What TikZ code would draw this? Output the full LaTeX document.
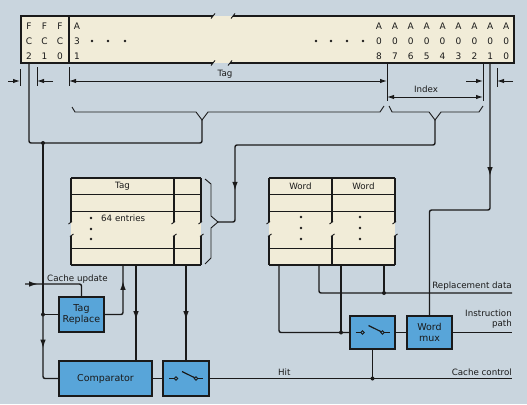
\documentclass[tikz,border=0pt]{standalone}
\usepackage{fontspec}
\setmainfont{DejaVu Sans}
\usetikzlibrary{arrows.meta,decorations.markings,calc}
\definecolor{bgc}{HTML}{C9D5DE}
\definecolor{cream}{HTML}{F1ECD8}
\definecolor{boxblue}{HTML}{58A5D9}
\definecolor{ink}{HTML}{1A1A1A}
\tikzset{
  wire/.style={draw=ink, line width=1.4pt, rounded corners=2pt},
  fine/.style={draw=ink, line width=0.9pt},
  frame/.style={draw=ink, line width=1.3pt},
  arrowat/.style={postaction={decorate}, decoration={markings, mark=at position #1 with {\arrow{Latex[length=9pt,width=5.6pt]}}}},
  bluebox/.style={draw=ink, line width=1.3pt, fill=boxblue, inner sep=0pt, text=ink,
    font=\fontsize{9.5}{11}\selectfont, align=center},
  memfill/.style={fill=cream, inner sep=0pt},
  lbl/.style={font=\fontsize{8.7}{10}\selectfont, inner sep=0pt, text=ink},
  bitcol/.style={font=\fontsize{9}{15}\selectfont, align=center, inner sep=0pt, text=ink},
  jdot/.style={circle, fill=ink, inner sep=0pt, minimum size=4pt},
  smalldot/.style={circle, fill=ink, inner sep=0pt, minimum size=2.8pt},
  pics/switchsym/.style={code={
    \draw[fine] (-17,0) -- (-11.7,0);
    \draw[fine] (-10,0) circle (1.7pt);
    \draw[fine, line width=1.2pt] (-4,-7) -- (8.6,-0.8);
    \draw[fine] (10,0) circle (1.7pt);
    \draw[fine] (11.7,0) -- (17,0);
  }},
}
\begin{document}
\begin{tikzpicture}[x=1pt,y=-1pt,>={Latex[length=7pt,width=4.4pt]}]
\fill[bgc] (0,0) rectangle (527,404);
\useasboundingbox (0,0) rectangle (527,404);

% ---------- address register ----------
\node[memfill, minimum width=493pt, minimum height=47pt] (reg) at (267.5,39.5) {};
\draw[frame] (213,16) -- (21,16) -- (21,63) -- (213,63);
\draw[frame] (233,16) -- (514,16) -- (514,63) -- (230,63);
\draw[fine] (211,18.5) -- (215,13.5);
\draw[fine] (231,18.5) -- (235,13.5);
\draw[fine] (211,65.5) -- (215,60.5);
\draw[fine] (228,65.5) -- (232,60.5);
\draw[frame] (69,16) -- (69,63);

\node[bitcol] (fc2) at (29,41) {F\\C\\2};
\node[bitcol] (fc1) at (44.5,41) {F\\C\\1};
\node[bitcol] (fc0) at (60,41) {F\\C\\0};
\node[bitcol] (a31) at (77,41) {A\\3\\1};
\foreach \i in {8,...,0}
  \node[bitcol] (a\i) at ({379+15.9*(8-\i)},41) {A\\0\\\i};
\foreach \x in {92,108,125,316,331,347,363}
  \fill[ink] (\x,41) circle (1.4pt);

% ---------- dimension marks ----------
\draw[fine] (20,69) -- (20,86);
\draw[fine,->] (8,81) -- (20,81);
\draw[fine] (37,67) -- (37,86);
\draw[fine,->] (53,81) -- (37,81);
\draw[fine] (69,67) -- (69,86);
\draw[fine] (387,63) -- (387,101);
\draw[fine,<->] (69,81) -- (387,81);
\node[lbl] (taglbl) at (225,74.5) {Tag};
\draw[fine] (483,63) -- (483,101);
\draw[fine,<->] (387,97) -- (483,97);
\node[lbl] (idxlbl) at (426,89) {Index};
\draw[fine,->] (466,81) -- (483,81);
\draw[fine] (497,68) -- (497,87);
\draw[fine,->] (513,81) -- (497,81);

% ---------- braces ----------
\draw[fine] (72,107) -- (75,112) -- (196,112) -- (202,120) -- (208,112) -- (380,112) -- (384,106);
\draw[fine] (389,106) -- (392,112) -- (429,112) -- (435,120) -- (441,112) -- (479,112) -- (483,106);
\coordinate (tagtip) at (202,120);
\coordinate (idxtip) at (435,120);

% ---------- tag memory ----------
\node[memfill, minimum width=130pt, minimum height=87pt] (tm) at (136,221.5) {};
\draw[frame] (71,178) -- (201,178);
\draw[frame] (71,265) -- (201,265);
\foreach \x in {71,174,201} {
  \draw[frame] (\x,178) -- (\x,222);
  \draw[frame] (\x,236) -- (\x,265);
  \draw[fine] (\x-2.5,224) -- (\x+1,221.5);
  \draw[fine] (\x-1,236.5) -- (\x+2.5,234);
}
\foreach \y in {194,211,248} \draw[fine] (71,\y) -- (201,\y);
\node[lbl] (tmhead) at (122.5,186.5) {Tag};
\node[smalldot] (te1) at (91,218) {};
\node[lbl, anchor=base west] (tment) at (101,221.5) {64 entries};
\node[smalldot] (te2) at (91,229) {};
\node[smalldot] (te3) at (91,239) {};
\draw[fine] (205,179) -- (211,184) -- (211,216) -- (218,222) -- (211,228) -- (211,258) -- (205,264);
\coordinate (tmbr) at (218,222);

% ---------- word memory ----------
\node[memfill, minimum width=126pt, minimum height=87pt] (wm) at (332,221.5) {};
\draw[frame] (269,178) -- (395,178);
\draw[frame] (269,265) -- (395,265);
\foreach \x in {269,332,395} {
  \draw[frame] (\x,178) -- (\x,222);
  \draw[frame] (\x,236) -- (\x,265);
  \draw[fine] (\x-2.5,224) -- (\x+1,221.5);
  \draw[fine] (\x-1,236.5) -- (\x+2.5,234);
}
\foreach \y in {194,211,248} \draw[fine] (269,\y) -- (395,\y);
\node[lbl] (wh1) at (300.5,186.5) {Word};
\node[lbl] (wh2) at (363.5,186.5) {Word};
\foreach \x/\n in {301/a,360/b} {
  \node[smalldot] (wd\n1) at (\x,217) {};
  \node[smalldot] (wd\n2) at (\x,228) {};
  \node[smalldot] (wd\n3) at (\x,239) {};
}

% ---------- blue boxes ----------
\node[bluebox, minimum width=45pt, minimum height=35pt] (treplace) at (81.5,314.5) {Tag\\Replace};
\node[bluebox, minimum width=93pt, minimum height=35pt] (comp) at (105.5,378.5) {Comparator};
\node[bluebox, minimum width=46pt, minimum height=35pt] (sw1) at (186,378.5) {};
\node[bluebox, minimum width=45pt, minimum height=33pt] (sw2) at (372.5,332.5) {};
\node[bluebox, minimum width=45pt, minimum height=33pt] (wmux) at (429.5,332.5) {Word\\mux};
\pic at (sw1.center) {switchsym};
\pic at (sw2.center) {switchsym};

% ---------- junctions and ends ----------
\node[jdot] (j1) at (43,143) {};
\node[jdot] (j2) at (43,314.5) {};
\coordinate (fcl) at (29,63);
\coordinate (a1l) at (490,63);
\coordinate (a1c) at (490,210);
\coordinate (idxc) at (435,145);
\coordinate (cuin) at (25,284);
\coordinate (tmin) at (123,265);
\coordinate (tmo) at (136,265);
\coordinate (tmv) at (186,265);
\coordinate (wo1) at (279,265);
\coordinate (wo2) at (319,265);
\coordinate (wo3) at (341,265);
\coordinate (wo4) at (384,265);
\coordinate (hitend) at (512,378.5);
\coordinate (rdend) at (512,293);
\coordinate (ipend) at (512,332.5);
\node[jdot] (d3) at (372.5,378.5) {};
\node[jdot] (d4) at (341,332.5) {};
\node[jdot] (d5) at (384,293) {};

% ---------- wires ----------
\draw[wire] (fcl) -- (fcl |- j1) -- (tagtip |- j1) -- (tagtip);
\draw[wire, arrowat=269pt] (idxtip) -- (idxc) -- (235,145) -- (235,222) -- (tmbr);
\draw[wire, arrowat=113pt] (a1l) -- (a1c) -- (wmux.north |- a1c) -- (wmux.north);
\draw[wire, arrowat=204pt] (j1.center) -- (j2.center);
\draw[wire, arrowat=34pt] (j2.center) |- (comp.west);
\draw[wire] (j2.center) -- (treplace.west);
\draw[wire, arrowat=13pt] (cuin) -| (treplace.north);
\draw[wire, arrowat=51pt] (treplace.east) -| (tmin);
\draw[wire, arrowat=55pt] (tmo) -- (tmo |- comp.north);
\draw[wire, arrowat=55pt] (tmv) -- (tmv |- sw1.north);
\draw[wire] (comp.east) -- (sw1.west);
\draw[wire] (sw1.east) -- (hitend);
\draw[wire] (sw2.south) -- (d3.center);
\draw[wire] (wo1) |- (sw2.west);
\draw[wire] (wo3) -- (d4.center);
\draw[wire] (wo2) |- (rdend);
\draw[wire] (wo4) -- (d5.center);
\draw[wire] (sw2.east) -- (wmux.west);
\draw[wire] (wmux.east) -- (ipend);

% ---------- labels ----------
\node[lbl, anchor=base west] (cul) at (47,281) {Cache update};
\node[lbl, anchor=base east] (rdl) at (512,288) {Replacement data};
\node[lbl, anchor=base east] (ipl1) at (512,316) {Instruction};
\node[lbl, anchor=base east] (ipl2) at (512,326.5) {path};
\node[lbl, anchor=base west] (hitl) at (278,375) {Hit};
\node[lbl, anchor=base east] (ccl) at (512,375) {Cache control};
\end{tikzpicture}
\end{document}
